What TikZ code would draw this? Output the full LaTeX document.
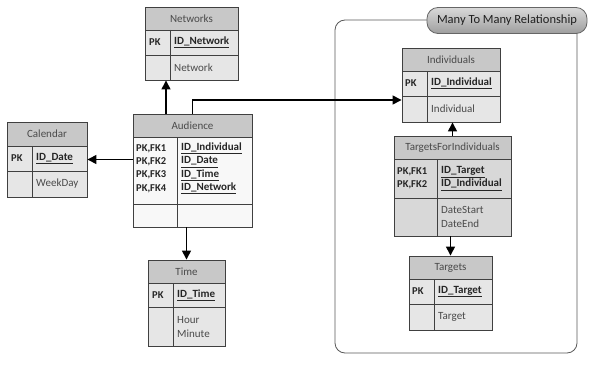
\documentclass[tikz,border=0pt]{standalone}
\usepackage{fontspec}
\setmainfont{Carlito}
\usetikzlibrary{fit,arrows.meta}

\definecolor{hdrgray}{HTML}{C8C8C8}
\definecolor{bodygray}{HTML}{E6E6E6}
\definecolor{bodywhite}{HTML}{F8F8F8}
\definecolor{bodydark}{HTML}{D8D8D8}
\definecolor{edgegray}{HTML}{404040}
\definecolor{inkdark}{HTML}{262626}
\definecolor{inkgray}{HTML}{4A4A4A}

\tikzset{
  hdrfill/.style={fill=hdrgray},
  grid/.style={draw=edgegray, line width=0.9pt},
  frame/.style={draw=edgegray, line width=0.9pt, inner sep=0pt},
  title/.style={text=inkgray, font=\fontsize{11}{12}\selectfont, inner sep=0pt},
  keycol/.style={anchor=west, text=inkdark, align=left, inner sep=0pt,
    font=\fontsize{10.5}{13.4}\selectfont\bfseries},
  idcol/.style={anchor=west, text=inkdark, align=left, inner sep=0pt,
    font=\fontsize{11}{13.4}\selectfont\bfseries},
  attrcol/.style={anchor=west, text=inkgray, align=left, inner sep=0pt,
    font=\fontsize{11}{14}\selectfont},
  conn/.style={draw=black, line width=1.4pt, -{Triangle[length=9pt,width=9pt]}},
  groupbox/.style={draw=black!65, line width=0.8pt, rounded corners=10pt},
  pill/.style={draw=black!60, line width=0.8pt, rounded corners=11pt,
    top color=black!15, bottom color=black!38, minimum width=160pt,
    minimum height=26pt, inner sep=0pt, text=black!88,
    font=\fontsize{12.5}{14}\selectfont},
}

% table frame: name, x left, x right, column divider, y top, y header bottom,
% y first-row bottom, y bottom, body colour
\newcommand\ertable[9]{%
  \fill[hdrfill] (#2,#5) rectangle (#3,#6);
  \fill[#9] (#2,#6) rectangle (#3,#8);
  \draw[grid] (#2,#6) -- (#3,#6) (#2,#7) -- (#3,#7) (#4,#6) -- (#4,#8);
  \node[frame, fit={(#2,#5) (#3,#8)}] (#1) {};
}

\begin{document}
\begin{tikzpicture}[x=1pt, y=-1pt]
\useasboundingbox (0,0) rectangle (594,369);

% grouping frame for the many-to-many part
\draw[groupbox] (335,20) rectangle (577,353);
\node[pill] (grouplabel) at (507,20.5) {Many To Many Relationship};

% Networks
\ertable{networks}{145}{238}{170}{7}{30}{55}{80}{bodygray}
\node[title] (networks-t) at (191.5,18.5) {Networks};
\node[keycol] (networks-k) at (149,42.5) {PK};
\node[idcol] (networks-i) at (174,42.5) {\underline{ID\_Network}};
\node[attrcol] (networks-a) at (174,68) {Network};

% Audience
\ertable{audience}{133}{252}{177}{114}{137}{204}{227}{bodywhite}
\node[title] (audience-t) at (192.5,125.5) {Audience};
\node[keycol] (audience-k) at (136,168.5) {PK,FK1\\PK,FK2\\PK,FK3\\PK,FK4};
\node[idcol] (audience-i) at (181,168.5) {\underline{ID\_Individual}\\\underline{ID\_Date}\\\underline{ID\_Time}\\\underline{ID\_Network}};

% Calendar
\ertable{calendar}{7}{87}{32}{122}{146}{171}{197}{bodygray}
\node[title] (calendar-t) at (47,134) {Calendar};
\node[keycol] (calendar-k) at (11,158.5) {PK};
\node[idcol] (calendar-i) at (36,158.5) {\underline{ID\_Date}};
\node[attrcol] (calendar-a) at (36,184) {WeekDay};

% Time
\ertable{time}{148}{225}{173}{260}{283}{307}{346}{bodygray}
\node[title] (time-t) at (186.5,271.5) {Time};
\node[keycol] (time-k) at (152,295) {PK};
\node[idcol] (time-i) at (177,295) {\underline{ID\_Time}};
\node[attrcol] (time-a) at (177,327) {Hour\\Minute};

% Individuals
\ertable{individuals}{402}{500}{427}{48}{71}{96}{122}{bodygray}
\node[title] (individuals-t) at (451,59.5) {Individuals};
\node[keycol] (individuals-k) at (405,83.5) {PK};
\node[idcol] (individuals-i) at (431,83.5) {\underline{ID\_Individual}};
\node[attrcol] (individuals-a) at (431,109) {Individual};

% TargetsForIndividuals
\ertable{tfi}{394}{511}{437}{136}{159}{198}{236}{bodydark}
\node[title] (tfi-t) at (452.5,147.5) {TargetsForIndividuals};
\node[keycol] (tfi-k) at (397,178.5) {PK,FK1\\PK,FK2};
\node[idcol] (tfi-i) at (441,178.5) {\underline{ID\_Target}\\\underline{ID\_Individual}};
\node[attrcol] (tfi-a) at (441,217) {DateStart\\DateEnd};

% Targets
\ertable{targets}{409}{492}{434}{256}{279}{304}{330}{bodygray}
\node[title] (targets-t) at (450.5,267.5) {Targets};
\node[keycol] (targets-k) at (412,291.5) {PK};
\node[idcol] (targets-i) at (438,291.5) {\underline{ID\_Target}};
\node[attrcol] (targets-a) at (438,317) {Target};

% relationships
\draw[conn] (audience.north -| 166,0) -- (networks.south -| 166,0);
\draw[conn] (audience.west |- calendar.east) -- (calendar.east);
\draw[conn] (time.north |- audience.south) -- (time.north);
\draw[conn] (audience.north) |- (individuals.west |- 0,100);
\draw[conn] (tfi.north) -- (tfi.north |- individuals.south);
\draw[conn] (targets.north |- tfi.south) -- (targets.north);
\end{tikzpicture}
\end{document}
